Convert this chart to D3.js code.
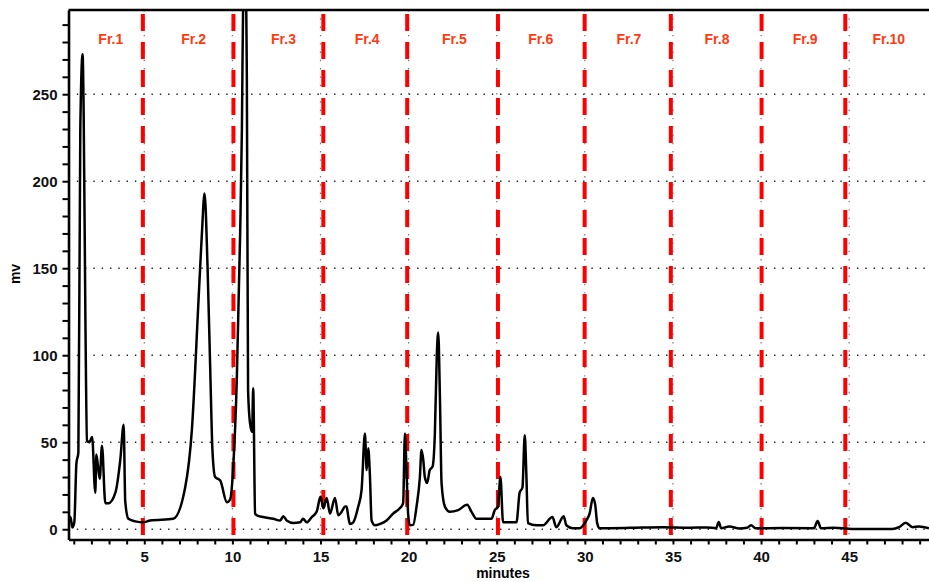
<!DOCTYPE html>
<html>
<head>
<meta charset="utf-8">
<script src="https://cdn.jsdelivr.net/npm/d3@7"></script>
<style>
body { margin: 0; background: #fff; }
svg { display: block; font-family: "Liberation Sans", Arial, sans-serif; }
</style>
</head>
<body>
<svg width="929" height="582"></svg>
<script>
// retention time (minutes) and signal (mv)
var times = [0.72, 0.81, 0.92, 1.03, 1.15, 1.26, 1.37, 1.50, 1.56, 1.66, 1.75, 1.88, 2.04, 2.22, 2.28, 2.47, 2.60, 2.79, 2.98, 3.36, 3.64, 3.83, 3.92, 4.10, 4.50, 4.94, 5.33, 6.64,
  7.32, 7.70, 8.08, 8.27, 8.42, 8.59, 8.74, 8.87, 9.02, 9.31, 9.69, 9.87, 10.06, 10.25, 10.44, 10.54, 10.63, 10.72, 10.82, 10.89, 11.0, 11.12, 11.18, 11.29, 11.39,
  11.76, 12.33, 12.71, 12.89, 13.08, 13.46, 13.84, 14.01, 14.22, 14.50, 14.78, 14.97, 15.01, 15.16, 15.35, 15.54, 15.82, 16.01, 16.20, 16.39, 16.48, 16.58, 16.67,
  16.86, 17.14, 17.33, 17.52, 17.62, 17.71, 17.80, 17.90, 18.09, 18.37, 18.75, 19.12, 19.50, 19.69, 19.79, 19.88, 19.97, 20.07, 20.26, 20.45, 20.64, 20.73, 20.83,
  20.92, 21.05, 21.20, 21.36, 21.49, 21.60, 21.68, 21.78, 21.87, 22.06, 22.34, 22.81, 23.32, 23.57, 23.85, 24.42, 24.70, 24.89, 25.07, 25.21, 25.36, 26.12, 26.30,
  26.46, 26.59, 26.68, 26.77, 27.25, 27.62, 28.16, 28.38, 28.80, 28.95, 29.32, 29.70, 30.08, 30.27, 30.46, 30.59, 30.70, 30.84, 32.53, 34.42, 35.93, 36.95, 37.45,
  37.60, 37.73, 38.20, 38.77, 39.20, 39.43, 39.71, 41.19, 43.00, 43.21, 43.40, 44.15, 45.17, 47.43, 47.83, 48.21, 48.59, 48.96, 49.53];
var signal = [6, 7, 1, 4, 38, 44, 230, 273, 240, 120, 51, 50, 53, 21, 43, 29, 48, 15, 15, 21, 40, 60, 16, 6, 4.5, 4, 5, 6,
  24, 57, 132, 170, 193, 151, 93, 45, 30, 28, 15.5, 17, 38, 86, 170, 230, 320, 330, 260, 80, 61, 56, 81, 9, 8,
  7, 6, 5, 7.5, 5, 3.6, 4, 6, 4, 7, 10, 18, 18.6, 12, 18, 9, 18, 8, 10, 13, 13, 7, 3,
  4, 13, 22.5, 55, 34, 46.5, 32, 5, 2.3, 3, 5, 9, 12, 15, 55, 34, 9, 2.3, 2.5, 13, 30, 45.5, 40,
  30, 26.5, 34, 36, 55, 100, 113, 74, 26.5, 13, 10, 11, 14, 10, 6, 6, 6, 11, 13, 30, 4, 4, 21,
  24, 54, 32, 3.5, 2.3, 2.3, 7, 1.2, 7.5, 2.3, 0.6, 0.6, 5, 9, 18, 14, 3.5, 0.6, 0.8, 1.2, 0.9, 1.0, 0.6,
  4.2, 0.6, 1.6, 0.4, 0.8, 2.3, 0.5, 0.7, 0.6, 4.8, 0.5, 0.8, 0.2, 0.2, 1.2, 3.7, 1.2, 1.6, 0.5];

var fractionLines = [4.92, 10.06, 15.16, 19.92, 25.07, 29.99, 34.88, 40.03, 44.78];
var fractionNames = ["Fr.1", "Fr.2", "Fr.3", "Fr.4", "Fr.5", "Fr.6", "Fr.7", "Fr.8", "Fr.9", "Fr.10"];
var fractionLabelAt = [3.1, 7.8, 12.9, 17.65, 22.6, 27.5, 32.5, 37.5, 42.5, 47.25];
var xMajor = [5, 10, 15, 20, 25, 30, 35, 40, 45];
var yMajor = [0, 50, 100, 150, 200, 250];

var svg = d3.select("svg");
var plotLeft = 68.5, plotRight = 929, plotTop = 10, plotBottom = 539.5;

var x = d3.scaleLinear().domain([0.7, 49.53]).range([plotLeft, plotRight]);
var y = d3.scaleLinear().domain([-5.9, 298.4]).range([plotBottom, plotTop]);

// dotted grid
svg.append("g").selectAll("line").data(yMajor).join("line")
  .attr("x1", plotLeft).attr("x2", plotRight)
  .attr("y1", function(d) { return y(d); }).attr("y2", function(d) { return y(d); })
  .attr("stroke", "#222").attr("stroke-width", 1.4).attr("stroke-dasharray", "1.4,6.9");
svg.append("g").selectAll("line").data(xMajor).join("line")
  .attr("x1", function(d) { return x(d); }).attr("x2", function(d) { return x(d); })
  .attr("y1", plotTop).attr("y2", plotBottom)
  .attr("stroke", "#777").attr("stroke-width", 1.2).attr("stroke-dasharray", "1.4,6.9");

// red fraction cuts
svg.append("g").selectAll("line").data(fractionLines).join("line")
  .attr("x1", function(d) { return x(d); }).attr("x2", function(d) { return x(d); })
  .attr("y1", plotTop + 4).attr("y2", plotBottom)
  .attr("stroke", "#ff0000").attr("stroke-width", 4).attr("stroke-dasharray", "17,11");

svg.append("g").selectAll("text").data(fractionNames).join("text")
  .attr("x", function(d, i) { return x(fractionLabelAt[i]); })
  .attr("y", 44)
  .attr("text-anchor", "middle")
  .attr("fill", "#ff3a10")
  .attr("font-size", 14).attr("font-weight", "bold")
  .text(function(d) { return d; });

// trace
svg.append("clipPath").attr("id", "plot")
  .append("rect").attr("x", plotLeft).attr("y", plotTop).attr("width", plotRight - plotLeft).attr("height", plotBottom - plotTop);

var pts = times.map(function(t, i) { return [t, signal[i]]; });
var line = d3.line()
  .x(function(d) { return x(d[0]); })
  .y(function(d) { return y(d[1]); })
  .curve(d3.curveMonotoneX);

svg.append("path").datum(pts)
  .attr("clip-path", "url(#plot)")
  .attr("d", line)
  .attr("fill", "none").attr("stroke", "#000").attr("stroke-width", 2.5)
  .attr("stroke-linejoin", "round");

// axes
var xAxis = d3.axisBottom(x).tickValues(d3.range(1, 50)).tickSize(5).tickSizeOuter(0)
  .tickFormat(function(d) { return d % 5 === 0 ? d : ""; });
var gx = svg.append("g").attr("transform", "translate(0," + plotBottom + ")").call(xAxis);
gx.select(".domain").attr("stroke-width", 2.6);
gx.selectAll(".tick line").attr("stroke-width", 2);
gx.selectAll(".tick text").attr("font-size", 15).attr("font-weight", "bold").attr("fill", "#111").attr("dy", "0.95em");

var yAxis = d3.axisLeft(y).tickValues(d3.range(0, 300, 10)).tickSize(6).tickSizeOuter(0)
  .tickFormat(function(d) { return d % 50 === 0 ? d : ""; });
var gy = svg.append("g").attr("transform", "translate(" + plotLeft + ",0)").call(yAxis);
gy.select(".domain").attr("stroke-width", 2.6);
gy.selectAll(".tick line").attr("stroke-width", 2);
gy.selectAll(".tick text").attr("font-size", 15).attr("font-weight", "bold").attr("fill", "#111").attr("x", -11);

svg.append("line").attr("x1", plotLeft).attr("x2", plotRight).attr("y1", plotTop).attr("y2", plotTop)
  .attr("stroke", "#000").attr("stroke-width", 2.6);

svg.append("text").attr("x", 503).attr("y", 578).attr("text-anchor", "middle")
  .attr("font-size", 14).attr("font-weight", "bold").text("minutes");
svg.append("text").attr("transform", "translate(20,274) rotate(-90)").attr("text-anchor", "middle")
  .attr("font-size", 14).attr("font-weight", "bold").text("mv");
</script>
</body>
</html>
